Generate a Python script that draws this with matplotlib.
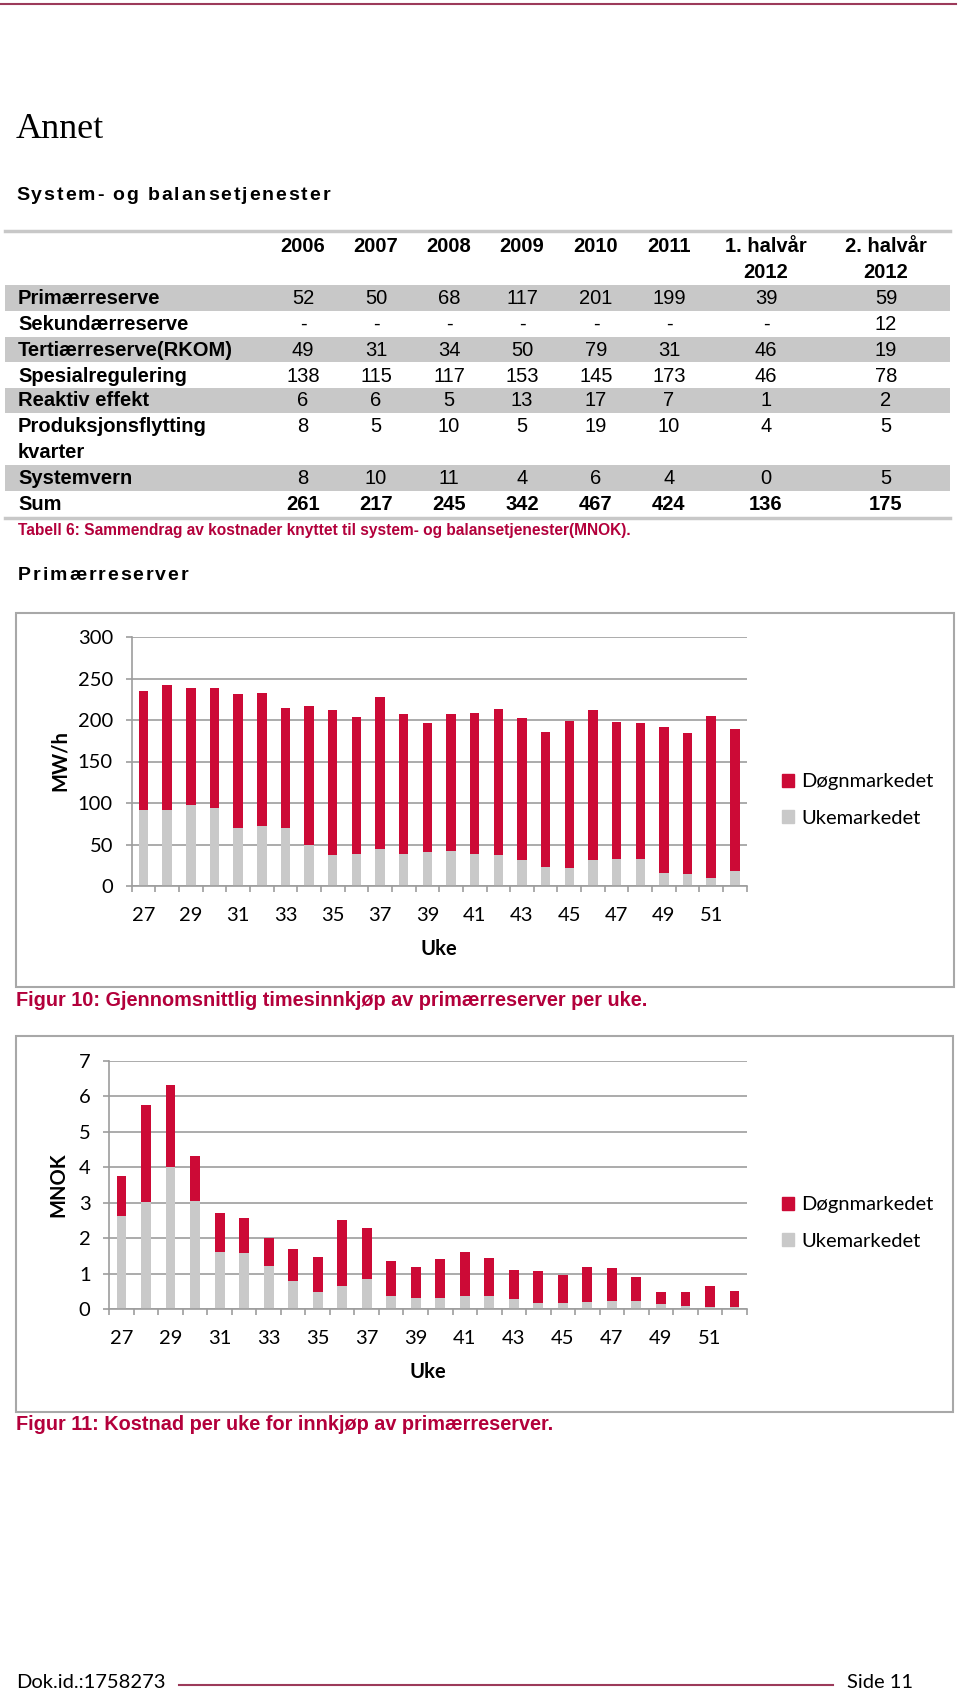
import matplotlib
matplotlib.use("Agg")
import matplotlib.pyplot as plt
from matplotlib.patches import Rectangle, Patch
from matplotlib.lines import Line2D
from matplotlib.font_manager import FontProperties, findfont, get_font
import numpy as np

# --- table data (MNOK) ---
col_heads = ["2006", "2007", "2008", "2009", "2010", "2011", "1. halvår", "2. halvår"]
col_heads2 = ["", "", "", "", "", "", "2012", "2012"]
row_labels = ["Primærreserve", "Sekundærreserve", "Tertiærreserve(RKOM)",
              "Spesialregulering", "Reaktiv effekt", "Produksjonsflytting",
              "Systemvern", "Sum"]
primaer = ["52", "50", "68", "117", "201", "199", "39", "59"]
sekundaer = ["-", "-", "-", "-", "-", "-", "-", "12"]
tertiaer = ["49", "31", "34", "50", "79", "31", "46", "19"]
spesial = ["138", "115", "117", "153", "145", "173", "46", "78"]
reaktiv = ["6", "6", "5", "13", "17", "7", "1", "2"]
produksjon = ["8", "5", "10", "5", "19", "10", "4", "5"]
systemvern = ["8", "10", "11", "4", "6", "4", "0", "5"]
sum_row = ["261", "217", "245", "342", "467", "424", "136", "175"]

# --- weekly charts ---
weeks = [27, 28, 29, 30, 31, 32, 33, 34, 35, 36, 37, 38, 39,
         40, 41, 42, 43, 44, 45, 46, 47, 48, 49, 50, 51, 52]
# Figur 10: MW/h
uke_mw = [92, 92, 98, 94, 70, 72, 70, 50, 37, 39, 45, 39, 41,
          42, 39, 37, 31, 23, 22, 31, 32, 33, 16, 15, 10, 18]
dogn_mw = [143, 150, 141, 144, 161, 161, 144, 167, 175, 165, 183, 168, 155,
           165, 169, 176, 171, 162, 177, 181, 166, 163, 176, 169, 195, 171]
# Figur 11: MNOK
uke_mnok = [2.64, 3.02, 4.02, 3.04, 1.62, 1.59, 1.23, 0.80, 0.49, 0.66, 0.84, 0.38, 0.33,
            0.32, 0.37, 0.38, 0.28, 0.19, 0.19, 0.21, 0.23, 0.23, 0.14, 0.09, 0.06, 0.07]
dogn_mnok = [1.12, 2.73, 2.29, 1.27, 1.08, 0.99, 0.78, 0.90, 0.97, 1.86, 1.45, 0.98, 0.85,
             1.11, 1.23, 1.07, 0.83, 0.90, 0.78, 0.99, 0.94, 0.69, 0.35, 0.39, 0.59, 0.44]

RED = "#cc0a36"
GRAY = "#c9c9c9"
CAPTION = "#b3003b"
MAROON = "#9c3a5a"
AXGRAY = "#9d9d9d"

W, H = 960, 1695
fig = plt.figure(figsize=(W / 100, H / 100), dpi=100)


def fx(x):
    return x / W


def fy(y):
    return 1 - y / H


def ptext(x, y, s, **kw):
    kw.setdefault("va", "center")
    return fig.text(fx(x), fy(y), s, **kw)


def hline(x0, x1, y, color, lw):
    fig.add_artist(Line2D([fx(x0), fx(x1)], [fy(y), fy(y)], color=color, lw=lw,
                          transform=fig.transFigure))


def band(x0, x1, y0, y1, color):
    fig.add_artist(Rectangle((fx(x0), fy(y1)), (x1 - x0) / W, (y1 - y0) / H,
                             facecolor=color, edgecolor="none", transform=fig.transFigure))


def tracked(x, y, s, track, family, size, weight="bold"):
    # letter-spaced heading, advances taken from the font itself
    prop = FontProperties(family=family, weight=weight, size=size)
    font = get_font(findfont(prop))
    font.set_size(size, 100)
    for ch in s:
        g = font.load_char(ord(ch))
        if ch != " ":
            ptext(x, y, ch, family=family, fontsize=size, weight=weight)
        x += g.linearHoriAdvance / 65536 + track


SANS = ["Liberation Sans", "DejaVu Sans"]
CHART = ["Lato", "DejaVu Sans"]
CFS = 14.5

# page header
hline(0, 956, 4, MAROON, 1.5)
ptext(16, 130, "Annet", family=["Liberation Serif"], fontsize=26)
tracked(16, 195, "System- og balansetjenester", 1.9, "Liberation Sans", 14)

# table
hline(5, 950, 231, "#c8c8c8", 2.5)
cols = [303, 376, 449, 522, 596, 669, 766, 886]
for cx, h1, h2 in zip(cols, col_heads, col_heads2):
    ptext(cx, 247, h1, family=SANS, fontsize=14.5, weight="bold", ha="center")
    if h2:
        ptext(cx, 272, h2, family=SANS, fontsize=14.5, weight="bold", ha="center")

for y0, y1 in [(285, 311), (337, 362), (388, 413), (465, 491)]:
    band(5, 950, y0, y1, "#c8c8c8")

row_y = [299, 324, 350, 376, 401, 427, 478, 504]
row_vals = [primaer, sekundaer, tertiaer, spesial, reaktiv, produksjon, systemvern, sum_row]
for label, yy, vals in zip(row_labels, row_y, row_vals):
    ptext(18, yy, label, family=SANS, fontsize=14.5, weight="bold")
    wt = "bold" if label == "Sum" else "normal"
    for cx, v in zip(cols, vals):
        ptext(cx, yy, v, family=SANS, fontsize=14.5, weight=wt, ha="center")
ptext(18, 452, "kvarter", family=SANS, fontsize=14.5, weight="bold")
hline(5, 950, 518, "#c8c8c8", 2.5)
ptext(18, 531, "Tabell 6: Sammendrag av kostnader knyttet til system- og balansetjenester(MNOK).",
      family=SANS, fontsize=11.2, weight="bold", color=CAPTION)

tracked(18, 575, "Primærreserver", 1.9, "Liberation Sans", 14)


def chart(box, axbox, uke, dogn, ymax, ystep, ylabel, ylab_xy, uke_xy, leg_y):
    bx0, by0, bx1, by1 = box
    fig.add_artist(Rectangle((fx(bx0), fy(by1)), (bx1 - bx0) / W, (by1 - by0) / H,
                             fill=False, edgecolor="#a8a8a8", lw=1.5,
                             transform=fig.transFigure))
    l, t, r, b = axbox
    ax = fig.add_axes([fx(l), fy(b), (r - l) / W, (b - t) / H])
    x = np.arange(len(weeks))
    ax.bar(x, uke, width=0.4, color=GRAY, label="Ukemarkedet")
    ax.bar(x, dogn, bottom=uke, width=0.4, color=RED, label="Døgnmarkedet")
    ax.set_xlim(-0.5, len(weeks) - 0.5)
    ax.set_ylim(0, ymax)
    ticks = np.arange(0, ymax + ystep / 2, ystep)
    ax.set_yticks(ticks)
    ax.set_yticklabels([f"{v:g}" for v in ticks])
    ax.yaxis.grid(True, color=AXGRAY, lw=1.2)
    ax.set_axisbelow(True)
    for s in ["top", "right"]:
        ax.spines[s].set_visible(False)
    for s in ["left", "bottom"]:
        ax.spines[s].set_color(AXGRAY)
        ax.spines[s].set_linewidth(1.2)
    ax.set_xticks(x[::2])
    ax.set_xticklabels([str(w) for w in weeks[::2]])
    ax.set_xticks(np.arange(-0.5, len(weeks), 1), minor=True)
    ax.tick_params(axis="x", which="major", length=0, pad=15, labelsize=CFS)
    ax.tick_params(axis="x", which="minor", length=4.5, color=AXGRAY, width=1.2)
    ax.tick_params(axis="y", length=4.5, color=AXGRAY, width=1.2, pad=9, labelsize=CFS)
    for lab in ax.get_xticklabels() + ax.get_yticklabels():
        lab.set_family(CHART)
    ptext(ylab_xy[0], ylab_xy[1], ylabel, family=CHART, fontsize=CFS, weight="bold",
          rotation=90, ha="center")
    ptext(uke_xy[0], uke_xy[1], "Uke", family=CHART, fontsize=CFS, weight="bold", ha="center")
    handles = [Patch(color=RED, label="Døgnmarkedet"), Patch(color=GRAY, label="Ukemarkedet")]
    ax.legend(handles=handles, loc="center left", bbox_to_anchor=(fx(782), fy(leg_y)),
              bbox_transform=fig.transFigure, frameon=False, handlelength=0.62,
              handleheight=0.62, handletextpad=0.35, labelspacing=0.95, borderpad=0,
              borderaxespad=0, prop={"family": CHART, "size": CFS})
    return ax


chart((16, 613, 954, 987), (131.7, 637, 746.7, 886), uke_mw, dogn_mw, 300, 50,
      "MW/h", (60, 761), (439, 949), 800)
ptext(16, 1001, "Figur 10: Gjennomsnittlig timesinnkjøp av primærreserver per uke.",
      family=SANS, fontsize=14.3, weight="bold", color=CAPTION)

chart((16, 1036, 953, 1412), (109.3, 1060.7, 746.7, 1309.3), uke_mnok, dogn_mnok, 7, 1,
      "MNOK", (58, 1185), (428, 1372), 1223)
ptext(16, 1425, "Figur 11: Kostnad per uke for innkjøp av primærreserver.",
      family=SANS, fontsize=14.3, weight="bold", color=CAPTION)

# footer
ptext(16, 1683, "Dok.id.:1758273", family=CHART, fontsize=14.5)
ptext(913, 1683, "Side 11", family=CHART, fontsize=14.5, ha="right")
hline(179, 833, 1685, MAROON, 1.5)

fig.savefig("out.png", dpi=100)
